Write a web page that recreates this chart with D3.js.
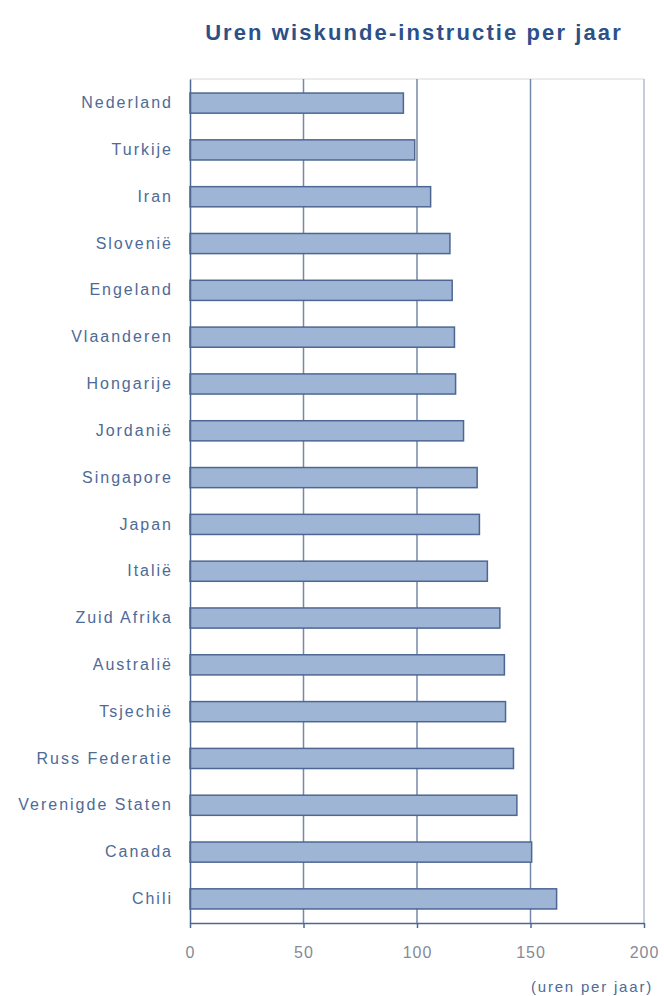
<!DOCTYPE html>
<html>
<head>
<meta charset="utf-8">
<script src="https://cdn.jsdelivr.net/npm/d3@7"></script>
<style>
  body { margin: 0; background: #fff; }
  text { font-family: "Liberation Sans", Arial, sans-serif; }
</style>
</head>
<body>
<div id="root"></div>
<script>
// Data (hours of maths instruction per year)
const countries = ["Nederland", "Turkije", "Iran", "Slovenië", "Engeland", "Vlaanderen", "Hongarije",
  "Jordanië", "Singapore", "Japan", "Italië", "Zuid Afrika", "Australië", "Tsjechië",
  "Russ Federatie", "Verenigde Staten", "Canada", "Chili"];
const hours = [94, 99, 106, 114.5, 115.5, 116.5, 117, 120.5, 126.5, 127.5, 131, 136.5, 138.5, 139, 142.5, 144, 150.5, 161.5];
const xTicks = [0, 50, 100, 150, 200];

const w = 664;
const h = 996;
const margin = { top: 79, right: 20, bottom: 73, left: 190 };

const svg = d3.select("#root")
  .append("svg")
  .attr("width", w)
  .attr("height", h);

const x = d3.scaleLinear()
  .domain([0, 200])
  .range([margin.left, w - margin.right]);

const y = d3.scaleBand()
  .domain(countries)
  .range([margin.top, h - margin.bottom])
  .paddingInner(0.57)
  .paddingOuter(0.3);

// title
svg.append("text")
  .attr("x", 414)
  .attr("y", 40)
  .attr("text-anchor", "middle")
  .style("font-size", "22px")
  .style("font-weight", "bold")
  .style("letter-spacing", "2.1px")
  .style("fill", "#2c5088")
  .text("Uren wiskunde-instructie per jaar");

// top border
svg.append("line")
  .attr("x1", x(0)).attr("x2", x(200))
  .attr("y1", margin.top).attr("y2", margin.top)
  .attr("stroke", "#d4d8e0").attr("stroke-width", 1);

// gridlines
svg.selectAll(".grid")
  .data(xTicks.slice(1))
  .enter()
  .append("line")
  .attr("class", "grid")
  .attr("x1", d => x(d)).attr("x2", d => x(d))
  .attr("y1", margin.top).attr("y2", h - margin.bottom)
  .attr("stroke", d => d === 200 ? "#b4bccb" : "#7488a9")
  .attr("stroke-width", 1.5);

// bars
svg.selectAll(".bar")
  .data(countries)
  .enter()
  .append("rect")
  .attr("class", "bar")
  .attr("x", x(0))
  .attr("y", d => y(d))
  .attr("width", (d, i) => x(hours[i]) - x(0))
  .attr("height", y.bandwidth())
  .attr("fill", "#9fb5d6")
  .attr("stroke", "#4d6792")
  .attr("stroke-width", 1.5);

// x axis
const xAxis = d3.axisBottom(x)
  .tickValues(xTicks)
  .tickSize(5)
  .tickSizeOuter(0);

const gx = svg.append("g")
  .attr("transform", `translate(0, ${h - margin.bottom})`)
  .call(xAxis);
gx.select(".domain").attr("stroke", "#4d6792").attr("stroke-width", 1.5);
gx.selectAll(".tick line").attr("stroke", "#4d6792").attr("stroke-width", 1.5);
gx.selectAll(".tick text")
  .attr("y", 24)
  .attr("dy", "0.71em")
  .style("font-size", "16px")
  .style("letter-spacing", "1px")
  .style("fill", "#858b97");

// y axis
const yAxis = d3.axisLeft(y).tickSize(0).tickPadding(17);
const gy = svg.append("g")
  .attr("transform", `translate(${margin.left}, 0)`)
  .call(yAxis);
gy.select(".domain").attr("stroke", "#4d6792").attr("stroke-width", 1.5);
gy.selectAll(".tick text")
  .style("font-size", "16px")
  .style("letter-spacing", "2px")
  .style("fill", "#4e6a96");

// unit label
svg.append("text")
  .attr("x", 653)
  .attr("y", 992)
  .attr("text-anchor", "end")
  .style("font-size", "15px")
  .style("letter-spacing", "1.8px")
  .style("fill", "#4e6a96")
  .text("(uren per jaar)");
</script>
</body>
</html>
